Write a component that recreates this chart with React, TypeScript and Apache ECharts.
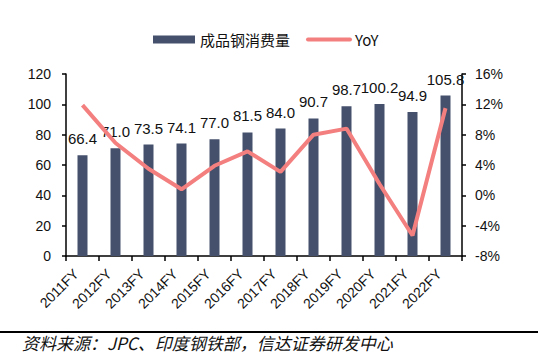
import React, { useEffect, useRef } from "react";
import * as echarts from "echarts";

const categories = ["2011FY", "2012FY", "2013FY", "2014FY", "2015FY", "2016FY", "2017FY", "2018FY", "2019FY", "2020FY", "2021FY", "2022FY"];
const consumption = [66.4, 71.0, 73.5, 74.1, 77.0, 81.5, 84.0, 90.7, 98.7, 100.2, 94.9, 105.8];
const yoy = [11.9, 6.9, 3.5, 0.8, 3.9, 5.8, 3.1, 8.0, 8.8, 1.5, -5.3, 11.5];
const sourceText = "资料来源：JPC、印度钢铁部，信达证券研发中心";

const FONT = "Liberation Sans, Arial, sans-serif";

export default function App() {
  const ref = useRef<HTMLDivElement>(null);
  useEffect(() => {
    if (!ref.current) return;
    const chart = echarts.init(ref.current, undefined, { renderer: "svg" });
    chart.setOption({
      animation: false,
      backgroundColor: "#ffffff",
      textStyle: { fontFamily: FONT },
      legend: {
        top: 27,
        left: 148,
        itemGap: 16,
        itemWidth: 42,
        itemHeight: 8,
        textStyle: { fontSize: 15, color: "#111", fontFamily: "Noto Sans CJK SC, Liberation Sans, sans-serif" },
        data: [
          { name: "成品钢消费量", icon: "rect" },
          { name: "YoY", itemStyle: { opacity: 0 }, lineStyle: { width: 4, cap: "round", color: "#f47f7f" } },
        ],
      },
      grid: { left: 66, right: 88, top: 74, bottom: 108 },
      xAxis: {
        type: "category",
        data: categories,
        axisLine: { lineStyle: { color: "#000", width: 1.5 } },
        axisTick: { show: true, length: 5, lineStyle: { color: "#000", width: 1.5 } },
        axisLabel: {
          rotate: 45,
          fontSize: 14,
          color: "#111",
          margin: 9,
          padding: [0, 9, 0, 0],
          interval: 0,
          fontFamily: FONT,
        },
      },
      yAxis: [
        {
          type: "value",
          min: 0,
          max: 120,
          interval: 20,
          splitLine: { show: false },
          axisLine: { show: true, lineStyle: { color: "#000", width: 1.5 } },
          axisTick: { show: true, length: 4, lineStyle: { color: "#000", width: 1.5 } },
          axisLabel: { fontSize: 14, color: "#111", margin: 15, fontFamily: FONT },
        },
        {
          type: "value",
          min: -8,
          max: 16,
          interval: 4,
          splitLine: { show: false },
          axisLine: { show: true, lineStyle: { color: "#000", width: 1.5 } },
          axisTick: { show: true, length: 4, lineStyle: { color: "#000", width: 1.5 } },
          axisLabel: { fontSize: 14, color: "#111", margin: 13, formatter: "{value}%", fontFamily: FONT },
        },
      ],
      series: [
        {
          name: "成品钢消费量",
          type: "bar",
          data: consumption,
          barWidth: 10,
          itemStyle: { color: "#44506c" },
          label: {
            show: true,
            position: "top",
            distance: 9,
            fontSize: 15,
            color: "#111",
            fontFamily: FONT,
            formatter: (p: any) => Number(p.value).toFixed(1),
          },
        },
        {
          name: "YoY",
          type: "line",
          yAxisIndex: 1,
          data: yoy,
          symbol: "none",
          showSymbol: false,
          lineStyle: { color: "#f47f7f", width: 4 },
          itemStyle: { color: "#f47f7f" },
          z: 5,
        },
      ],
      graphic: [
        {
          type: "line",
          shape: { x1: 0, y1: 332, x2: 538, y2: 332 },
          style: { stroke: "#000", lineWidth: 2 },
        },
        {
          type: "text",
          x: 22,
          y: 342,
          style: {
            text: sourceText,
            fontSize: 17,
            fontStyle: "italic",
            fill: "#111",
            fontFamily: "Noto Sans CJK SC, Liberation Sans, sans-serif",
            verticalAlign: "middle",
          },
        },
      ],
    });
    return () => chart.dispose();
  }, []);
  return <div ref={ref} style={{ width: 550, height: 364, position: "absolute", left: 0, top: 0 }} />;
}
